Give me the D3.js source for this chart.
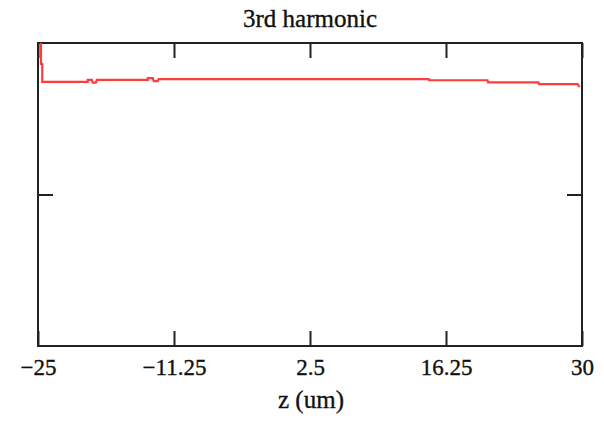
<!DOCTYPE html>
<html>
<head>
<meta charset="utf-8">
<script src="https://cdn.jsdelivr.net/npm/d3@7/dist/d3.min.js"></script>
<style>
  html, body { margin: 0; padding: 0; background: #fff; }
  svg { display: block; }
  text { font-family: "Liberation Serif", "Times New Roman", serif; fill: #111; stroke: #111; stroke-width: 0.35px; }
</style>
</head>
<body>
<svg id="chart" width="604" height="425"></svg>
<script>
// Position along z (um)
const zValues = [-24.70, -24.70, -24.57, -24.57, -19.97, -19.97, -19.55, -19.45, -19.15, -19.05,
                 -13.90, -13.90, -13.40, -13.30, -12.90, -12.80, 14.50, 14.55, 20.45, 20.50,
                 25.60, 25.65, 29.55, 29.75];
// 3rd harmonic amplitude (normalised)
const harmonic3 = [1.000, 0.931, 0.931, 0.872, 0.872, 0.878, 0.878, 0.869, 0.869, 0.878,
                   0.878, 0.884, 0.884, 0.874, 0.874, 0.881, 0.881, 0.877, 0.877, 0.870,
                   0.870, 0.864, 0.864, 0.855];
const xTicks = [-25, -11.25, 2.5, 16.25, 30];
const yTicks = [0.5];

const title = "3rd harmonic";
const xLabel = "z (um)";

const margin = { top: 43, right: 22, bottom: 79, left: 38 };
const W = 604, H = 425;
const iw = W - margin.left - margin.right;
const ih = H - margin.top - margin.bottom;

const svg = d3.select("#chart");
const g = svg.append("g").attr("transform", `translate(${margin.left},${margin.top})`);

const x = d3.scaleLinear().domain([-25, 30]).range([0, iw]);
const y = d3.scaleLinear().domain([0, 1]).range([ih, 0]);

const fmt = v => d3.format("")(v);

// Inward ticks on all four sides
const axBottom = g.append("g").attr("transform", `translate(0,${ih})`)
  .call(d3.axisBottom(x).tickValues(xTicks).tickSize(-15).tickPadding(13).tickFormat(fmt));
const axTop = g.append("g")
  .call(d3.axisTop(x).tickValues(xTicks).tickSize(-15).tickFormat(""));
const axLeft = g.append("g")
  .call(d3.axisLeft(y).tickValues(yTicks).tickSize(-15).tickFormat(""));
const axRight = g.append("g").attr("transform", `translate(${iw},0)`)
  .call(d3.axisRight(y).tickValues(yTicks).tickSize(-15).tickFormat(""));

[axBottom, axTop, axLeft, axRight].forEach(a => {
  a.select(".domain").remove();
  a.selectAll(".tick line").attr("stroke", "#222").attr("stroke-width", 2);
});
axBottom.selectAll(".tick text")
  .style("font-family", '"Liberation Serif", "Times New Roman", serif')
  .style("font-size", "23px")
  .attr("fill", "#111");

// Frame
g.append("rect")
  .attr("x", 0).attr("y", 0)
  .attr("width", iw).attr("height", ih)
  .attr("fill", "none").attr("stroke", "#222").attr("stroke-width", 2);

// Curve
const pts = zValues.map((z, i) => [z, harmonic3[i]]);
g.append("path")
  .datum(pts)
  .attr("fill", "none")
  .attr("stroke", "#ff3b3b")
  .attr("stroke-width", 2.2)
  .attr("d", d3.line().x(d => x(d[0])).y(d => y(d[1])));

// Title and axis label
svg.append("text")
  .attr("x", margin.left + iw / 2).attr("y", 27)
  .attr("text-anchor", "middle")
  .style("font-size", "25px")
  .text(title);

svg.append("text")
  .attr("x", margin.left + iw / 2 + 1).attr("y", 408)
  .attr("text-anchor", "middle")
  .style("font-size", "25px")
  .text(xLabel);
</script>
</body>
</html>
